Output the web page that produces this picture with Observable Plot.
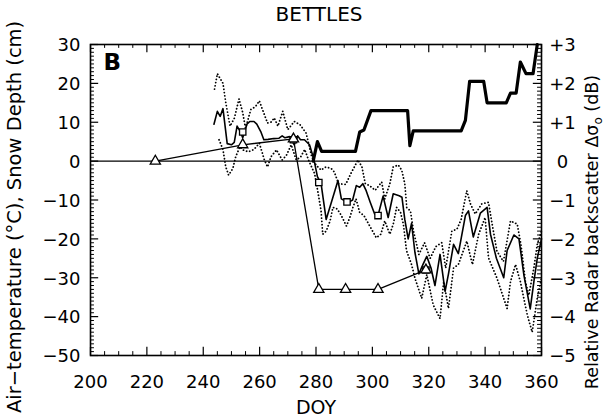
<!DOCTYPE html>
<html><head><meta charset="utf-8">
<script src="https://cdn.jsdelivr.net/npm/d3@7"></script>
<script src="https://cdn.jsdelivr.net/npm/@observablehq/plot@0.6"></script>
<style>body{margin:0;background:#fff} svg{display:block}</style>
</head><body><div id="chart"></div>
<script>
// Daily mean air temperature (°C)
const tempDoy  = [243.8,245,246,247,248.5,250,251,252,253,254,255.5,256.5,258,259,260.4,261.5,263,265,266.9,268,269,270.6,272.3,273.5,274.5,275.9,277.7,279.3,280.5,281.8,283.6,286,287.8,289,290.2,291.5,293,294.3,295.5,296.6,297.8,299.2,300.8,302,303.8,305.6,307.4,309.5,310.5,311.5,312.7,313.9,315.1,316.5,318,319.3,320.8,322.2,324,325.8,327,328.8,330.5,333,334.1,335.8,338.3,340.7,341.9,344,346.6,347.8,350.2,352,353.8,356,357.3,358.5,360];
const tempMean = [9.5,12.8,11.5,13.5,4.5,4.2,4.8,9,7.8,6,9.5,10.2,10.2,9.5,7.6,5.5,5.6,5.8,5.9,6.5,6,6.3,4.2,6.5,5.5,5.5,4.2,0.3,-4,-5.8,-15,-9.3,-5,-9.7,-10.2,-10.6,-10,-6.3,-6.7,-5.8,-7.6,-10.5,-13.6,-14,-9,-14.5,-8.4,-8.9,-9.3,-15,-20,-16,-23.5,-29,-26.5,-24.5,-27.5,-32,-24,-33.5,-29,-21.4,-23.8,-14,-12.8,-19.5,-13.4,-11.9,-18.8,-25,-30,-23,-19,-20,-29.5,-38,-31,-25,-20];
// Daily maximum air temperature (°C)
const tmaxDoy = [244,245,247,248,249.5,251,252.7,254,255,256.9,258.5,259.9,261,262.8,264,265.2,266.5,268.2,270,272.3,274.3,276.5,278.5,280,281.8,283.5,285.4,286.5,288,290.5,292.5,294.9,296.3,297.5,299,301,303.3,304.4,306.2,307.4,309.2,310.4,311.5,312.2,313.5,314.6,316.5,318.5,320.5,322.5,324.6,326,328.2,330,331.5,333.5,334.8,336.5,338.8,341.2,342.5,344.2,346.5,349,351.4,352.7,354.3,355.5,357.3,358.5,360];
const tmax    = [18.5,22.5,20,15,9,11,16,12.5,8.5,13.3,14,15.5,13.3,9.8,10,11.1,9,12.8,8.1,10.2,9.4,7.2,1.1,-1,-2.3,-1.5,-1.9,-2.8,-5.8,-6,-3,0.3,-1.5,-5.8,-6.3,-7.5,-5.4,-9.7,-5.8,-1.5,-1,-2.3,-5.8,-12,-12.8,-18,-24,-21,-25,-22,-21,-27.5,-18,-17.5,-15,-7.6,-11,-13.6,-11,-10.6,-16.2,-23.2,-25.8,-15.4,-16.2,-21.4,-31,-34.5,-27.5,-21.4,-18];
// Daily minimum air temperature (°C)
const tminDoy = [245.6,247,248,249,250.5,251.5,253,254,256,258,259.9,261.7,262.8,264,266,268,269.5,271.2,273,274.5,276,277.5,279.5,280.6,281.8,282.4,283.6,285,286,287.5,289,290.8,292,293.1,294.2,295.5,297,299.7,301.4,303,304.4,306.2,307.4,308.6,310,311,312.1,313.9,315.1,317.5,319.3,321.6,324,325.3,327,328.8,330.5,333.5,335.5,337.7,340,341.2,344.2,347.8,349,350.8,352.5,355,356.7,358.5,360];
const tmin    = [5.5,3,-1.5,-3.6,-1.9,1.1,3.7,2.9,2.4,3,4.6,0.3,-1.5,1.1,2.9,0.3,1.5,4.2,0.3,1,3,0,-3.2,-7.6,-12.8,-18.8,-18,-15.4,-11.9,-12.3,-14,-16.7,-14.5,-11.9,-9.7,-13.2,-14,-17.5,-19.7,-18.8,-15.4,-18.8,-16.2,-11.9,-13.2,-16.2,-23,-26.6,-30.1,-35.3,-29.2,-37,-40.5,-31,-37.9,-27.5,-26.6,-20.6,-26.6,-18.8,-14.5,-24.9,-30.1,-37.9,-31,-26.6,-31,-39.7,-44,-35.3,-30];
// Snow depth (cm)
const snowDoy   = [279,280.5,282,294,295.5,297,299.5,312.5,313.3,314.5,331.5,333,334.5,339.5,340.7,347.5,349,351,352.5,354.5,357,358.5];
const snowDepth = [0,5,2.5,2.5,7.5,8,13,13,4,7.8,7.8,10.5,20.5,20.5,15,15,17.5,17.5,25.5,22.5,22.5,30];
// Relative radar backscatter (dB) at acquisition dates
const radarDoy = [223,254,272,281,290.5,302,319];
const radarDb  = [0,0.42,0.57,-3.3,-3.3,-3.3,-2.8];
// Air temperature at acquisition dates (°C)
const acqDoy  = [254,272,281,291,302,319];
const acqTemp = [7.5,5.5,-5.5,-10.5,-14,-28];

// Tick labels
const xTicks = [200,220,240,260,280,300,320,340,360];
const yTicks = [30,20,10,0,-10,-20,-30,-40,-50];
const dbTicks = [3,2,1,0,-1,-2,-3,-4,-5];
const dbLabels = ["+3","+2","+1","0","−1","−2","−3","−4","−5"];

const zip = (xs, ys) => xs.map((x, i) => ({x, y: ys[i]}));
const temp = zip(tempDoy, tempMean);
const tmx = zip(tmaxDoy, tmax);
const tmn = zip(tminDoy, tmin);
const snow = zip(snowDoy, snowDepth);
const radar = zip(radarDoy, radarDb);
const acq = zip(acqDoy, acqTemp);

const fmt = v => v < 0 ? "−" + Math.abs(v) : String(v);
const xMinor = d3.range(200, 361, 5).filter(v => v % 20 !== 0);
const yMinor = d3.range(-50, 31, 1).filter(v => v % 10 !== 0);

const dotted = {x: "x", y: "y", stroke: "black", strokeWidth: 1.8, strokeDasharray: "0.1,3.2", strokeLinecap: "round"};

const chart = Plot.plot({
  width: 605, height: 418,
  marginTop: 44, marginBottom: 63, marginLeft: 90, marginRight: 64,
  x: {domain: [200, 360], axis: null},
  y: {domain: [-50, 30], axis: null},
  style: {fontFamily: "DejaVu Sans", fontSize: "18px", background: "white", color: "black"},
  marks: [
    Plot.ruleY([0], {stroke: "black", strokeWidth: 1.4}),
    // inward ticks
    Plot.ruleY(yTicks, {y: d => d, x1: 200, x2: 200 + 2.9, stroke: "black", strokeWidth: 1.2}),
    Plot.ruleY(yMinor, {y: d => d, x1: 200, x2: 200 + 1.4, stroke: "black", strokeWidth: 1}),
    Plot.ruleY(yTicks, {y: d => d, x1: 360, x2: 360 - 2.9, stroke: "black", strokeWidth: 1.2}),
    Plot.ruleY(yMinor, {y: d => d, x1: 360, x2: 360 - 1.4, stroke: "black", strokeWidth: 1}),
    Plot.ruleX(xTicks, {x: d => d, y1: -50, y2: -50 + 2.1, stroke: "black", strokeWidth: 1.2}),
    Plot.ruleX(xMinor, {x: d => d, y1: -50, y2: -50 + 1.0, stroke: "black", strokeWidth: 1}),
    Plot.ruleX(xTicks, {x: d => d, y1: 30, y2: 30 - 2.1, stroke: "black", strokeWidth: 1.2}),
    Plot.ruleX(xMinor, {x: d => d, y1: 30, y2: 30 - 1.0, stroke: "black", strokeWidth: 1}),
    // max/min dotted
    Plot.line(tmx, dotted),
    Plot.line(tmn, dotted),
    // mean temperature
    Plot.line(temp, {x: "x", y: "y", stroke: "black", strokeWidth: 1.6}),
    // snow depth
    Plot.line(snow, {x: "x", y: "y", stroke: "black", strokeWidth: 3.2}),
    // radar backscatter (right axis, 1 dB = 10 units)
    Plot.line(radar, {x: "x", y: d => d.y * 10, stroke: "black", strokeWidth: 1.3}),
    Plot.dot(acq, {x: "x", y: "y", symbol: "square", r: 3.6, stroke: "black", fill: "white", strokeWidth: 1.3}),
    Plot.dot(radar, {x: "x", y: d => d.y * 10, symbol: "triangle", r: 3.8, stroke: "black", fill: "white", strokeWidth: 1.3}),
    Plot.frame({stroke: "black", strokeWidth: 1.6}),
    // tick labels
    Plot.text(yTicks, {x: 200, y: d => d, text: fmt, dx: -10, textAnchor: "end", fontSize: 18, dy: 1}),
    Plot.text(xTicks, {x: d => d, y: -50, text: d => String(d), dy: 27, fontSize: 18}),
    Plot.text(dbTicks, {x: 360, y: d => d * 10, text: (d, i) => dbLabels[i], dx: 21, fontSize: 18, dy: 1}),
    Plot.text(["B"], {frameAnchor: "top-left", dx: 13, dy: 9, fontSize: 23, fontWeight: "bold", textAnchor: "start", lineAnchor: "top"}),
    Plot.text(["BETTLES"], {frameAnchor: "top", dy: -30, fontSize: 20, letterSpacing: "1.5px", lineAnchor: "middle", dx: 3})
  ]
});

const svg = d3.select(chart);
svg.append("text")
  .attr("transform", "translate(21,413) rotate(-90)")
  .attr("font-family", "DejaVu Sans").attr("font-size", 19.5).attr("fill", "black")
  .attr("text-anchor", "start")
  .text("Air−temperature (°C), Snow Depth (cm)");
const rl = svg.append("text")
  .attr("transform", "translate(598,232) rotate(-90)")
  .attr("font-family", "DejaVu Sans").attr("font-size", 17.5).attr("fill", "black")
  .attr("text-anchor", "middle");
rl.append("tspan").text("Relative Radar backscatter Δσ");
rl.append("tspan").attr("dy", 4).attr("font-size", 12).text("o");
rl.append("tspan").attr("dy", -4).text(" (dB)");
svg.append("text")
  .attr("x", 316).attr("y", 414)
  .attr("font-family", "DejaVu Sans").attr("font-size", 19).attr("fill", "black")
  .attr("text-anchor", "middle")
  .text("DOY");

document.getElementById("chart").appendChild(chart);
</script></body></html>
